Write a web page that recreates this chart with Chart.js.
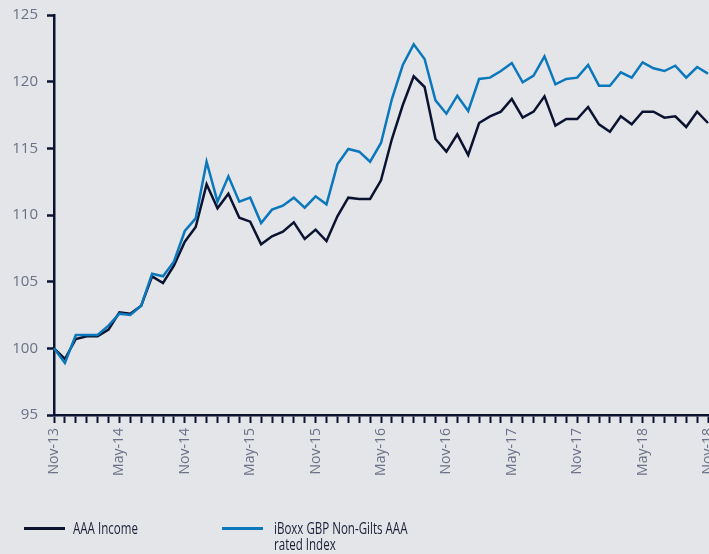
<!DOCTYPE html>
<html>
<head>
<meta charset="utf-8">
<script src="https://cdn.jsdelivr.net/npm/chart.js@4.4.1/dist/chart.umd.min.js"></script>
<style>
  html, body { margin: 0; padding: 0; background: #e3e5e9; overflow: hidden; }
  #wrap { position: relative; width: 709px; height: 554px; }
  #chart { display: block; }
  .legend-item { position: absolute; font-family: "Open Sans", sans-serif; font-size: 16.5px; line-height: 16px; color: #1a1f36; transform: scaleX(0.7); transform-origin: left top; white-space: nowrap; }
  .legend-line { position: absolute; height: 3px; width: 41px; }
</style>
</head>
<body>
<div id="wrap">
  <canvas id="chart" width="709" height="554"></canvas>
  <div class="legend-line" style="left:24px; top:527px; background:#0c1331;"></div>
  <div class="legend-item" style="left:73px; top:520px;">AAA Income</div>
  <div class="legend-line" style="left:222px; top:527px; background:#0b78bb;"></div>
  <div class="legend-item" style="left:274px; top:520px;">iBoxx GBP Non-Gilts AAA<br>rated Index</div>
</div>
<script>
// =======================
// Data
// =======================

const months = ["Jan", "Feb", "Mar", "Apr", "May", "Jun", "Jul", "Aug", "Sep", "Oct", "Nov", "Dec"];

// Nov-13 .. Nov-18, monthly
const labels = [];
for (let i = 0; i <= 60; i++) {
  const m = (10 + i) % 12;
  const y = 13 + Math.floor((10 + i) / 12);
  labels.push(months[m] + "-" + y);
}

const aaaIncome = [
  100.0, 99.2, 100.7, 100.9, 100.9, 101.4, 102.7, 102.6, 103.2, 105.4,
  104.9, 106.2, 108.0, 109.1, 112.3, 110.5, 111.6, 109.8, 109.5, 107.8,
  108.4, 108.75, 109.45, 108.2, 108.9, 108.05, 109.9, 111.3, 111.2, 111.2,
  112.6, 115.7, 118.25, 120.4, 119.6, 115.7, 114.75, 116.05, 114.5, 116.9,
  117.4, 117.75, 118.7, 117.3, 117.75, 118.9, 116.7, 117.2, 117.2, 118.1,
  116.8, 116.25, 117.4, 116.8, 117.75, 117.75, 117.3, 117.4, 116.6, 117.75,
  116.9
];

const iboxxAAA = [
  100.0, 98.9, 101.0, 101.0, 101.0, 101.7, 102.6, 102.5, 103.2, 105.6,
  105.4, 106.5, 108.8, 109.75, 114.0, 111.0, 112.9, 111.0, 111.3, 109.4,
  110.4, 110.7, 111.3, 110.55, 111.4, 110.8, 113.8, 114.95, 114.75, 114.0,
  115.4, 118.7, 121.25, 122.8, 121.7, 118.6, 117.6, 118.95, 117.8, 120.2,
  120.3, 120.8, 121.4, 119.95, 120.45, 121.9, 119.8, 120.2, 120.3, 121.25,
  119.7, 119.7, 120.7, 120.3, 121.45, 121.0, 120.8, 121.2, 120.3, 121.1,
  120.6
];

const yMin = 95;
const yMax = 125;
const yStep = 5;

// =======================
// Chart
// =======================

const axisColor = "#0c1331";
const tickLabelColor = "#6b7186";

new Chart(document.getElementById("chart").getContext("2d"), {
  type: "line",
  data: {
    labels: labels,
    datasets: [
      { label: "iBoxx GBP Non-Gilts AAA rated Index", data: iboxxAAA, borderColor: "#0b78bb", borderWidth: 2.5, pointRadius: 0, tension: 0 },
      { label: "AAA Income", data: aaaIncome, borderColor: "#0c1331", borderWidth: 2.5, pointRadius: 0, tension: 0 }
    ]
  },
  options: {
    responsive: false,
    animation: false,
    layout: { padding: { top: 15, right: 1, bottom: 74, left: 0 } },
    plugins: { legend: { display: false }, tooltip: { enabled: false } },
    scales: {
      x: {
        offset: false,
        grid: { drawOnChartArea: false, drawTicks: true, tickLength: 8, tickColor: axisColor, tickWidth: 2 },
        border: { color: axisColor, width: 2.5 },
        ticks: {
          autoSkip: false,
          minRotation: 90,
          maxRotation: 90,
          padding: 5,
          color: tickLabelColor,
          font: { family: "Open Sans", size: 14 },
          callback: (v, i) => (i % 6 === 0 ? labels[i] : "")
        },
        afterFit: (scale) => {
          scale.height = 65;
          scale.paddingLeft = 0;
          scale.paddingRight = 0;
        }
      },
      y: {
        min: yMin,
        max: yMax,
        grid: { drawOnChartArea: false, drawTicks: true, tickLength: 7, tickColor: axisColor, tickWidth: 2.5 },
        border: { color: axisColor, width: 2.5 },
        ticks: {
          stepSize: yStep,
          padding: 9,
          color: tickLabelColor,
          font: { family: "Open Sans", size: 15 }
        },
        afterFit: (scale) => {
          scale.width = 54;
          scale.paddingTop = 0;
          scale.paddingBottom = 0;
        }
      }
    }
  }
});
</script>
</body>
</html>
